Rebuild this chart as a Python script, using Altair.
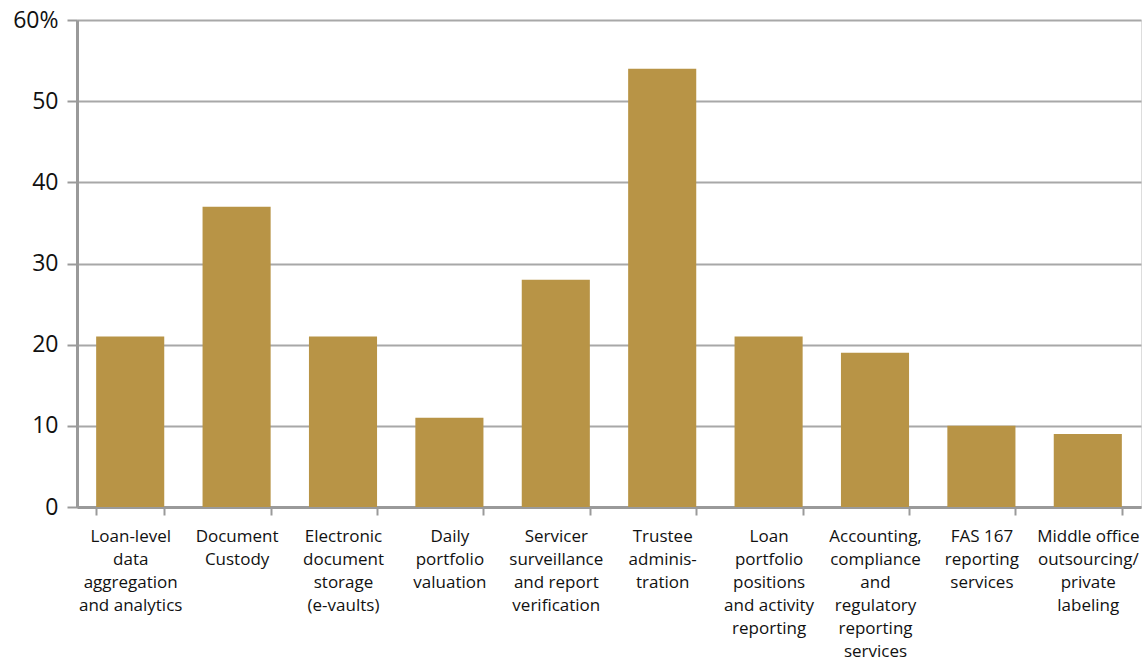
import altair as alt
import pandas as pd

# Survey responses: share of respondents citing each service (%)
services = [
    "Loan-level|data|aggregation|and analytics",
    "Document|Custody",
    "Electronic|document|storage|(e-vaults)",
    "Daily|portfolio|valuation",
    "Servicer|surveillance|and report|verification",
    "Trustee|adminis-|tration",
    "Loan|portfolio|positions|and activity|reporting",
    "Accounting,|compliance|and|regulatory|reporting|services",
    "FAS 167|reporting|services",
    "Middle office|outsourcing/|private|labeling",
]
shares = [21, 37, 21, 11, 28, 54, 21, 19, 10, 9]
y_ticks = [0, 10, 20, 30, 40, 50, 60]

df = pd.DataFrame({"service": services, "share": shares})

GOLD = "#B89446"
GREY = "#9a9a9a"
FONT = "Open Sans"

bars = alt.Chart(df).mark_bar(color=GOLD).encode(
    x=alt.X(
        "service:N",
        sort=services,
        title=None,
        scale=alt.Scale(paddingInner=0.36, paddingOuter=0.18),
        axis=alt.Axis(
            labelExpr="split(datum.label, '|')",
            labelAngle=0,
            labelAlign="center",
            labelBaseline="top",
            labelFont=FONT,
            labelFontSize=17,
            labelLineHeight=23,
            labelColor="#111111",
            labelPadding=13,
            labelLimit=0,
            tickBand="extent",
            tickSize=8,
            tickWidth=2,
            tickColor=GREY,
            domainColor=GREY,
            domainWidth=3,
            grid=False,
        ),
    ),
    y=alt.Y(
        "share:Q",
        title=None,
        scale=alt.Scale(domain=[0, 60], nice=False),
        axis=alt.Axis(
            values=y_ticks,
            labelExpr="datum.value == 60 ? '60%' : datum.label",
            labelFont=FONT,
            labelFontSize=23,
            labelColor="#111111",
            labelPadding=9,
            tickSize=10,
            tickWidth=2,
            tickColor=GREY,
            domainColor=GREY,
            domainWidth=3,
            grid=True,
            gridColor="#a8a8a8",
            gridWidth=2,
        ),
    ),
)

chart = (
    bars.properties(
        width=1064,
        height=487,
        autosize=alt.AutoSizeParams(type="none"),
        padding={"left": 77, "top": 20, "right": 5, "bottom": 155},
    )
    .configure_view(stroke=None)
    .configure(background="white")
)

chart.save("out.html", embed_options={"renderer": "svg", "actions": False})
